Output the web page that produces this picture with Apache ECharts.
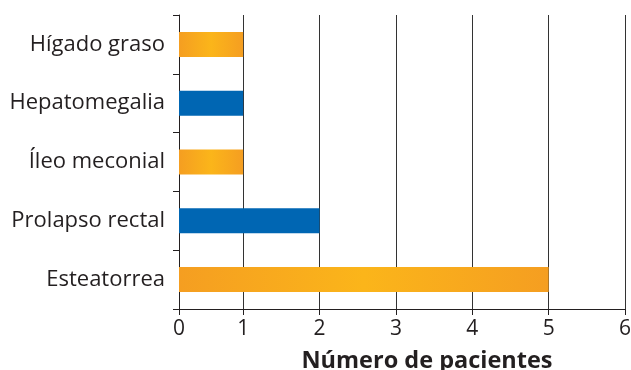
<!DOCTYPE html>
<html>
<head>
<meta charset="utf-8">
<script src="https://cdn.jsdelivr.net/npm/echarts@6/dist/echarts.min.js"></script>
<style>html,body{margin:0;padding:0;background:#fff;}#c{width:631px;height:370px;}</style>
</head>
<body>
<div id="c"></div>
<script>
const categories = ['Esteatorrea', 'Prolapso rectal', 'Íleo meconial', 'Hepatomegalia', 'Hígado graso'];
const values = [5, 2, 1, 1, 1];
const xTickValues = [1, 2, 3, 4, 5, 6];
const xTickLabels = ['0', '1', '2', '3', '4', '5', '6'];
const axisTitle = 'Número de pacientes';

// the original axis starts slightly right of value 0 (its "0" label sits at the axis start)
const axisStart = 0.16;
const axisEnd = 6;

const orange = new echarts.graphic.LinearGradient(0, 0, 1, 0, [
  {offset: 0, color: '#F59E21'},
  {offset: 0.5, color: '#FBB51A'},
  {offset: 1, color: '#F59E21'}
]);
const blue = '#0066B3';
const barColors = [orange, blue, orange, blue, orange];

const tickPositions = [axisStart].concat(xTickValues);

const chart = echarts.init(document.getElementById('c'), null, {renderer: 'canvas'});
chart.setOption({
  animation: false,
  grid: {left: 179, right: 6, top: 15, bottom: 61, containLabel: false, outerBoundsMode: 'none'},
  xAxis: {
    type: 'value', min: axisStart, max: axisEnd,
    axisLine: {show: true, lineStyle: {color: '#231f20', width: 1}},
    axisTick: {show: true, length: 6, customValues: tickPositions, lineStyle: {color: '#231f20'}},
    splitLine: {show: true, customValues: xTickValues, lineStyle: {color: '#333', width: 1}},
    axisLabel: {
      color: '#231f20', fontSize: 21, fontFamily: 'Open Sans', margin: 10,
      customValues: tickPositions,
      formatter: function (v) { const i = tickPositions.indexOf(v); return i >= 0 ? xTickLabels[i] : ''; }
    },
    name: axisTitle, nameLocation: 'middle', nameGap: 40,
    nameTextStyle: {color: '#231f20', fontSize: 23.5, fontWeight: 'bold', fontFamily: 'Open Sans', padding: [0, 0, 0, 50]}
  },
  yAxis: {
    type: 'category', data: categories,
    axisLine: {show: true, lineStyle: {color: '#231f20', width: 1}},
    axisTick: {show: true, length: 6, lineStyle: {color: '#231f20'}},
    axisLabel: {color: '#231f20', fontSize: 22, fontFamily: 'Open Sans', margin: 14}
  },
  series: [{
    type: 'bar', barWidth: 25, clip: true,
    data: values.map((v, i) => ({value: v, itemStyle: {color: barColors[i]}}))
  }]
});
</script>
</body>
</html>
